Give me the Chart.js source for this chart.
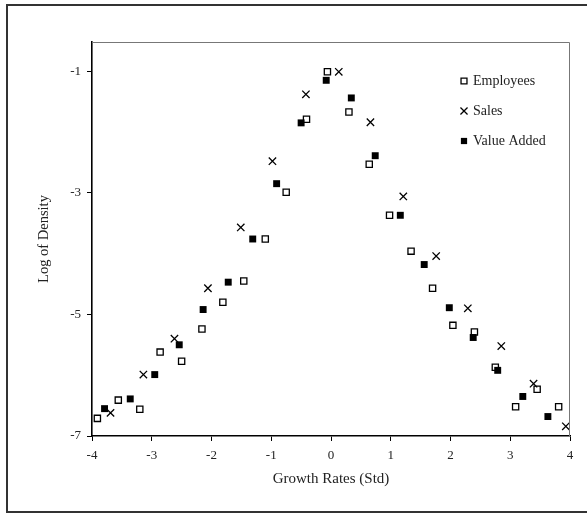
<!DOCTYPE html>
<html>
<head>
<meta charset="utf-8">
<script src="https://cdn.jsdelivr.net/npm/chart.js@4/dist/chart.umd.min.js"></script>
<style>
  html, body { margin: 0; padding: 0; background: #fff; }
  #wrap { width: 587px; height: 514px; }
</style>
</head>
<body>
<div id="wrap"><canvas id="densityChart" width="587" height="514"></canvas></div>
<script>
// Growth rate (std) / log density pairs
const employeesX = [-3.91, -3.56, -3.20, -2.86, -2.50, -2.16, -1.81, -1.46, -1.10, -0.75, -0.41, -0.06, 0.30, 0.64, 0.98, 1.34, 1.70, 2.04, 2.40, 2.75, 3.09, 3.45, 3.81];
const employeesY = [-6.71, -6.41, -6.56, -5.62, -5.77, -5.24, -4.80, -4.45, -3.76, -2.99, -1.79, -1.01, -1.67, -2.53, -3.37, -3.96, -4.57, -5.18, -5.29, -5.87, -6.52, -6.23, -6.52];

const salesX = [-3.69, -3.14, -2.62, -2.06, -1.51, -0.98, -0.42, 0.13, 0.66, 1.21, 1.76, 2.29, 2.85, 3.39, 3.93];
const salesY = [-6.62, -5.99, -5.40, -4.57, -3.57, -2.48, -1.38, -1.01, -1.84, -3.06, -4.04, -4.90, -5.52, -6.14, -6.84];

const valueAddedX = [-3.79, -3.36, -2.95, -2.54, -2.14, -1.72, -1.31, -0.91, -0.50, -0.08, 0.34, 0.74, 1.16, 1.56, 1.98, 2.38, 2.79, 3.21, 3.63];
const valueAddedY = [-6.55, -6.39, -5.99, -5.50, -4.92, -4.47, -3.76, -2.85, -1.85, -1.15, -1.44, -2.39, -3.37, -4.18, -4.89, -5.38, -5.92, -6.35, -6.68];

const xTicks = [-4, -3, -2, -1, 0, 1, 2, 3, 4];
const yTicks = [-7, -5, -3, -1];

const serif = "'Liberation Serif', 'Times New Roman', serif";
const toPoints = (xs, ys) => xs.map((x, i) => ({ x: x, y: ys[i] }));

// Outer frame + top/right box lines
const framePlugin = {
    id: 'frame',
    beforeDraw(chart) {
        const c = chart.ctx;
        c.save();
        c.fillStyle = '#fff';
        c.fillRect(0, 0, chart.width, chart.height);
        c.strokeStyle = '#333';
        c.lineWidth = 2;
        c.beginPath();
        c.moveTo(chart.width + 2, 5);
        c.lineTo(7, 5);
        c.lineTo(7, 512);
        c.lineTo(chart.width + 2, 512);
        c.stroke();
        c.restore();
    },
    afterDraw(chart) {
        const a = chart.chartArea;
        const c = chart.ctx;
        c.save();
        c.strokeStyle = '#777';
        c.lineWidth = 1;
        c.beginPath();
        c.moveTo(a.left, a.top + 0.5);
        c.lineTo(a.right - 0.5, a.top + 0.5);
        c.lineTo(a.right - 0.5, a.bottom);
        c.stroke();
        c.restore();
    }
};

// Legend drawn inside the plot, top right
const legendPlugin = {
    id: 'innerLegend',
    afterDatasetsDraw(chart) {
        const a = chart.chartArea;
        const c = chart.ctx;
        let y = a.top + 39;
        const x = a.right - 106;
        chart.data.datasets.forEach(ds => {
            c.save();
            c.fillStyle = ds.pointBackgroundColor;
            c.strokeStyle = ds.pointBorderColor;
            c.lineWidth = ds.pointBorderWidth;
            Chart.helpers.drawPoint(c, {
                pointStyle: ds.pointStyle,
                radius: ds.legendRadius,
                rotation: 0,
                borderWidth: ds.pointBorderWidth
            }, x, y);
            c.fillStyle = '#222';
            c.font = '14px ' + serif;
            c.textBaseline = 'middle';
            c.textAlign = 'left';
            c.fillText(ds.label, x + 9, y);
            c.restore();
            y += 30;
        });
    }
};

const ctx = document.getElementById('densityChart').getContext('2d');

new Chart(ctx, {
    type: 'scatter',
    data: {
        datasets: [
            {
                label: 'Employees',
                data: toPoints(employeesX, employeesY),
                pointStyle: 'rect',
                pointRadius: 4.4,
                legendRadius: 4.2,
                pointBackgroundColor: '#fff',
                pointBorderColor: '#000',
                pointBorderWidth: 1.3,
                order: 3
            },
            {
                label: 'Sales',
                data: toPoints(salesX, salesY),
                pointStyle: 'crossRot',
                pointRadius: 5.2,
                legendRadius: 5,
                pointBackgroundColor: '#000',
                pointBorderColor: '#000',
                pointBorderWidth: 1.3,
                order: 2
            },
            {
                label: 'Value Added',
                data: toPoints(valueAddedX, valueAddedY),
                pointStyle: 'rect',
                pointRadius: 4.9,
                legendRadius: 4.4,
                pointBackgroundColor: '#000',
                pointBorderColor: '#000',
                pointBorderWidth: 0,
                order: 1
            }
        ]
    },
    options: {
        responsive: false,
        animation: false,
        devicePixelRatio: 1,
        layout: {
            padding: { left: 0, right: 17, top: 42, bottom: 0 }
        },
        plugins: {
            legend: { display: false },
            tooltip: { enabled: false }
        },
        scales: {
            x: {
                type: 'linear',
                min: -4,
                max: 4,
                afterBuildTicks: (scale) => {
                    scale.ticks = xTicks.map(v => ({ value: v }));
                },
                afterFit: (scale) => { scale.height = 78; },
                grid: {
                    drawOnChartArea: false,
                    drawTicks: true,
                    tickLength: 5,
                    color: '#000'
                },
                border: { color: '#000', width: 1.6 },
                ticks: {
                    color: '#222',
                    padding: 7,
                    maxRotation: 0,
                    font: { family: serif, size: 13 },
                    callback: (v) => String(v)
                },
                title: {
                    display: true,
                    text: 'Growth Rates (Std)',
                    color: '#222',
                    font: { family: serif, size: 15 },
                    padding: { top: 0, bottom: 26 }
                }
            },
            y: {
                type: 'linear',
                min: -7,
                max: -0.52,
                afterBuildTicks: (scale) => {
                    scale.ticks = yTicks.map(v => ({ value: v }));
                },
                afterFit: (scale) => { scale.width = 92; },
                grid: {
                    drawOnChartArea: false,
                    drawTicks: true,
                    tickLength: 5,
                    color: '#000'
                },
                border: { color: '#000', width: 1.6 },
                ticks: {
                    color: '#222',
                    padding: 6,
                    font: { family: serif, size: 13 },
                    callback: (v) => String(v)
                },
                title: {
                    display: true,
                    text: 'Log of Density',
                    color: '#222',
                    font: { family: serif, size: 14.5 },
                    padding: { top: 35, bottom: 0 }
                }
            }
        }
    },
    plugins: [framePlugin, legendPlugin]
});
</script>
</body>
</html>
